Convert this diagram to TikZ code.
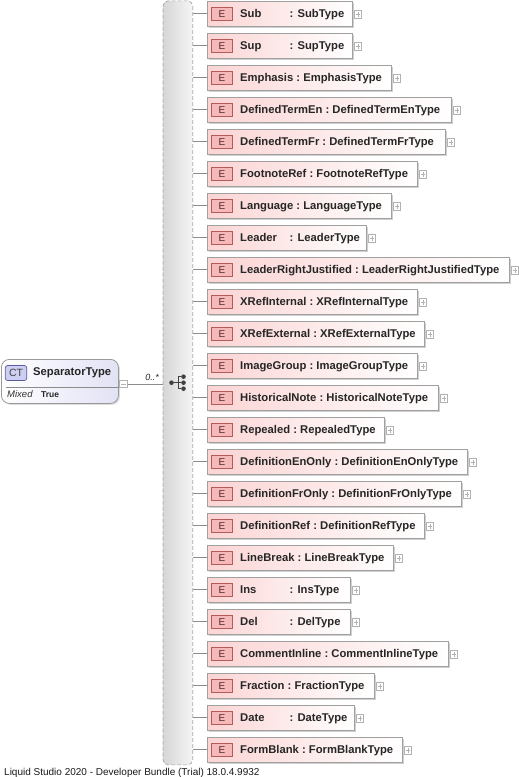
\documentclass[tikz,border=0pt]{standalone}
\usepackage{fontspec}
\setmainfont{Liberation Sans}
\usetikzlibrary{shadows}
\definecolor{boxborder}{RGB}{160,160,160}
\definecolor{boxpink}{RGB}{251,212,212}
\definecolor{badgefill}{RGB}{245,185,185}
\definecolor{badgedraw}{RGB}{180,90,90}
\definecolor{badgetext}{RGB}{90,40,40}
\definecolor{ctfill}{RGB}{206,206,242}
\definecolor{ctdraw}{RGB}{90,90,160}
\definecolor{ctbg}{RGB}{226,226,246}
\definecolor{connc}{RGB}{140,140,140}
\tikzset{
  ebox/.style={draw=boxborder, line width=0.8pt, left color=boxpink, right color=white, minimum height=25pt, inner sep=0pt, outer sep=0pt,
     drop shadow={shadow xshift=1.6pt, shadow yshift=-1.6pt, fill=black!30, opacity=0.6}},
  ebadge/.style={draw=badgedraw, line width=0.7pt, fill=badgefill, minimum width=21pt, minimum height=12.5pt, inner sep=0pt,
     font=\fontsize{10}{10}\selectfont, text=badgetext},
  etext/.style={inner sep=0pt, font=\fontsize{11.25}{11.25}\selectfont\bfseries, text=black!85},
  plusbox/.style={draw=black!30, fill=white, minimum size=7.5pt, inner sep=0pt, line width=0.6pt},
  plusline/.style={draw=black!30, line width=0.6pt},
  conn/.style={draw=connc, line width=0.7pt},
  dotn/.style={circle, fill=black!75, minimum size=4.6pt, inner sep=0pt},
  cline/.style={draw=black!75, line width=1pt}
}
\begin{document}
\begin{tikzpicture}[x=1pt,y=-1pt]
\useasboundingbox (0,0) rectangle (519,777);
\fill[white] (0,0) rectangle (519,777);
% vertical sequence bar
\node[draw=black!35, dashed, dash pattern=on 4pt off 2pt, line width=0.7pt, rounded corners=5pt, left color=black!16, right color=black!4,
  minimum width=29.6pt, minimum height=764pt, inner sep=0pt, anchor=north west] (bar) at (162.7,0.5) {};
% compositor icon
\node[dotn] (cd0) at (171.5,382.7) {};
\coordinate (cj) at (178.3,382.7);
\node[dotn] (cd1) at (183.5,376.7) {};
\node[dotn] (cd2) at (183.5,382.7) {};
\node[dotn] (cd3) at (183.5,388.7) {};
\draw[cline] (cd0) -- (cj);
\draw[cline] (cj |- cd1) -- (cj |- cd3);
\draw[cline] (cj |- cd1) -- (cd1);
\draw[cline] (cj) -- (cd2);
\draw[cline] (cj |- cd3) -- (cd3);
% complex type box
\node[draw=black!40, line width=0.8pt, rounded corners=8pt, left color=white, right color=ctbg, minimum width=117pt, minimum height=44pt,
  inner sep=0pt, anchor=north west, drop shadow={shadow xshift=1.5pt, shadow yshift=-1.5pt, fill=black!25, opacity=0.5}] (ct) at (1,359) {};
\node[draw=ctdraw, line width=0.7pt, rounded corners=2.5pt, fill=ctfill, minimum width=21.5pt, minimum height=15pt, inner sep=0pt,
  font=\fontsize{10.5}{10.5}\selectfont, text=black!75] (ctb) at (16,373) {CT};
\node[etext, anchor=base west] (ctn) at (33,375.5) {SeparatorType};
\draw[draw=black!45, line width=0.6pt] (ct.west |- 0,387) ++(5,0) coordinate (sl) -- (sl -| ct.east) ++(-5,0) coordinate (sr);
\node[inner sep=0pt, anchor=base west, font=\fontsize{9.5}{9.5}\selectfont\itshape, text=black!80] (mx) at (7,397.5) {Mixed};
\node[inner sep=0pt, anchor=base west, font=\fontsize{8.5}{8.5}\selectfont\bfseries, text=black!85] (tr) at (41,397) {True};
\node[plusbox] (ctm) at (123.5,384) {};
\draw[plusline] (ctm.center) +(-2.2,0) -- +(2.2,0);
\draw[conn] (ctm.east) -- (bar.west |- ctm.east);
\node[inner sep=0pt, anchor=base east, font=\fontsize{9}{9}\selectfont\itshape, text=black!85] (occ) at (159,380) {0..*};
% elements
\foreach \i/\nm/\ty/\r/\p in {
 0/Sub/SubType/352/1,
 1/Sup/SupType/352/1,
 2/Emphasis/EmphasisType/391/0,
 3/DefinedTermEn/DefinedTermEnType/451/0,
 4/DefinedTermFr/DefinedTermFrType/445/0,
 5/FootnoteRef/FootnoteRefType/417/0,
 6/Language/LanguageType/391/0,
 7/Leader/LeaderType/366/1,
 8/LeaderRightJustified/LeaderRightJustifiedType/509/0,
 9/XRefInternal/XRefInternalType/417/0,
 10/XRefExternal/XRefExternalType/424/0,
 11/ImageGroup/ImageGroupType/417/0,
 12/HistoricalNote/HistoricalNoteType/438/0,
 13/Repealed/RepealedType/384/0,
 14/DefinitionEnOnly/DefinitionEnOnlyType/467/0,
 15/DefinitionFrOnly/DefinitionFrOnlyType/461/0,
 16/DefinitionRef/DefinitionRefType/424/0,
 17/LineBreak/LineBreakType/393/0,
 18/Ins/InsType/350/1,
 19/Del/DelType/350/1,
 20/CommentInline/CommentInlineType/448/0,
 21/Fraction/FractionType/374/0,
 22/Date/DateType/354/1,
 23/FormBlank/FormBlankType/402/0}{
  \pgfmathsetmacro\yy{13.5+32*\i}
  \pgfmathsetmacro\ww{\r-207}
  \node[ebox, minimum width=\ww pt, anchor=west] (e\i) at (207,\yy) {};
  \node[ebadge] (b\i) at (222,\yy+0.3) {E};
  \ifnum\p=1
    \node[etext, anchor=base west] (n\i) at (240,\yy+4) {\nm};
    \node[etext, anchor=base west] (t\i) at (289.5,\yy+4) {: \ty};
  \else
    \node[etext, anchor=base west] (n\i) at (240,\yy+4) {\nm\ :\ \ty};
  \fi
  \node[plusbox] (p\i) at (\r+6,\yy+0.8) {};
  \draw[plusline] (p\i.center) +(-2.2,0) -- +(2.2,0);
  \draw[plusline] (p\i.center) +(0,-2.2) -- +(0,2.2);
  \draw[conn] (bar.east |- e\i.west) -- (e\i.west);
}
% footer
\node[inner sep=0pt, anchor=base west, font=\fontsize{10}{10}\selectfont, text=black!90] (foot) at (4,775) {Liquid Studio 2020 - Developer Bundle (Trial) 18.0.4.9932};
\end{tikzpicture}
\end{document}
